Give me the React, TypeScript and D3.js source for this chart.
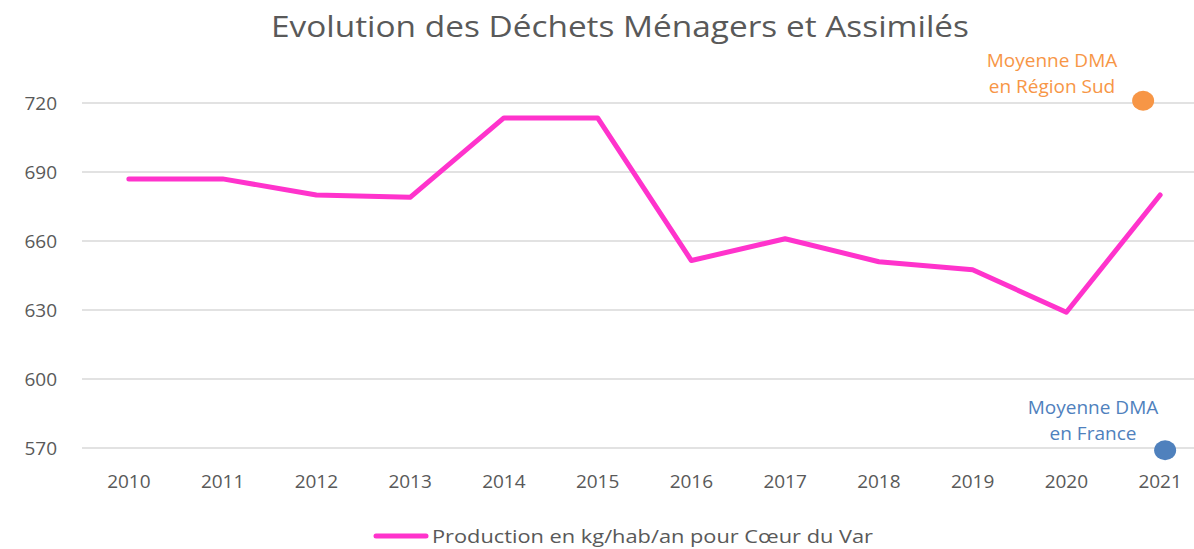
import { useRef, useEffect } from 'react';
import * as d3 from 'd3';

const years = ['2010', '2011', '2012', '2013', '2014', '2015', '2016', '2017', '2018', '2019', '2020', '2021'];
const production = [687, 687, 680, 679, 713.5, 713.5, 651.5, 661, 651, 647.5, 629, 680];
const yTicks = [570, 600, 630, 660, 690, 720];
const regionSud = 721;
const france = 569;

const App = () => {
  const ref = useRef<SVGSVGElement>(null);

  useEffect(() => {
    const svg = d3.select(ref.current);
    svg.selectAll('*').remove();
    const width = 1194;
    const height = 549;
    const font = "'Open Sans', sans-serif";
    const grey = '#595959';

    svg.attr('width', width).attr('height', height);

    const x = d3.scaleBand()
      .domain(years)
      .range([82, 1207]);

    const y = d3.scaleLinear()
      .domain([570, 720])
      .range([448, 103]);

    // gridlines
    svg.append('g')
      .selectAll('line')
      .data(yTicks)
      .enter().append('line')
      .attr('x1', 82)
      .attr('x2', width)
      .attr('y1', d => y(d))
      .attr('y2', d => y(d))
      .attr('stroke', '#d9d9d9')
      .attr('stroke-width', 1.3);

    // y labels
    svg.append('g')
      .selectAll('text')
      .data(yTicks)
      .enter().append('text')
      .attr('x', 57)
      .attr('y', d => y(d) + 7)
      .attr('text-anchor', 'end')
      .attr('font-family', font)
      .attr('font-size', 19)
      .attr('fill', grey)
      .text(d => d);

    // x labels
    svg.append('g')
      .selectAll('text')
      .data(years)
      .enter().append('text')
      .attr('x', d => x(d)! + x.bandwidth() / 2)
      .attr('y', 488)
      .attr('text-anchor', 'middle')
      .attr('font-family', font)
      .attr('font-size', 19)
      .attr('fill', grey)
      .text(d => d);

    // title
    svg.append('text')
      .attr('x', 620)
      .attr('y', 37)
      .attr('text-anchor', 'middle')
      .attr('font-family', font)
      .attr('font-size', 30)
      .attr('fill', grey)
      .attr('textLength', 698)
      .attr('lengthAdjust', 'spacingAndGlyphs')
      .text('Evolution des Déchets Ménagers et Assimilés');

    // main line
    const line = d3.line<number>()
      .x((_, i) => x(years[i])! + x.bandwidth() / 2)
      .y(d => y(d));

    svg.append('path')
      .datum(production)
      .attr('d', line)
      .attr('fill', 'none')
      .attr('stroke', '#ff33cc')
      .attr('stroke-width', 5)
      .attr('stroke-linecap', 'round')
      .attr('stroke-linejoin', 'round');

    const last = x('2021')! + x.bandwidth() / 2;

    // reference dots
    svg.append('ellipse')
      .attr('cx', last - 17)
      .attr('cy', y(regionSud))
      .attr('rx', 11)
      .attr('ry', 10)
      .attr('fill', '#f79646');

    svg.append('ellipse')
      .attr('cx', last + 5)
      .attr('cy', y(france))
      .attr('rx', 11)
      .attr('ry', 10)
      .attr('fill', '#4f81bd');

    const note = (lines: string[], cx: number, y0: number, color: string) => {
      lines.forEach((t, i) => {
        svg.append('text')
          .attr('x', cx)
          .attr('y', y0 + i * 26)
          .attr('text-anchor', 'middle')
          .attr('font-family', font)
          .attr('font-size', 19)
          .attr('fill', color)
          .text(t);
      });
    };
    note(['Moyenne DMA', 'en Région Sud'], 1052, 67, '#f79646');
    note(['Moyenne DMA', 'en France'], 1093, 414, '#4f81bd');

    // legend
    svg.append('line')
      .attr('x1', 376)
      .attr('x2', 426)
      .attr('y1', 536)
      .attr('y2', 536)
      .attr('stroke', '#ff33cc')
      .attr('stroke-width', 5)
      .attr('stroke-linecap', 'round');

    svg.append('text')
      .attr('x', 432)
      .attr('y', 543)
      .attr('font-family', font)
      .attr('font-size', 19)
      .attr('fill', grey)
      .attr('textLength', 441)
      .attr('lengthAdjust', 'spacingAndGlyphs')
      .text('Production en kg/hab/an pour Cœur du Var');
  }, []);

  return (
    <svg ref={ref} style={{ position: 'absolute', left: 0, top: 0 }}></svg>
  );
};

export default App;
